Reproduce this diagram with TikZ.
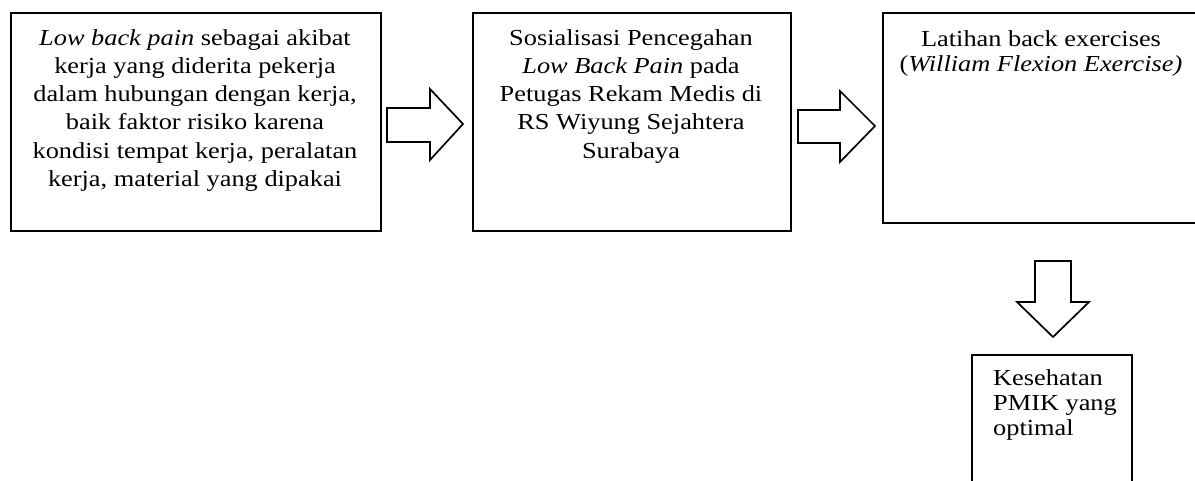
\documentclass[tikz,border=0pt]{standalone}
\usepackage{fontspec}
\setmainfont{Liberation Serif}[FakeStretch=1.15]
\begin{document}
\begin{tikzpicture}[x=1pt,y=-1pt,
  box/.style={draw, line width=2.3pt, inner sep=0pt, anchor=north west},
  txt/.style={align=center, inner sep=0pt, anchor=base, font=\fontsize{22.9}{28.3}\selectfont},
  txttight/.style={inner sep=0pt, anchor=base, font=\fontsize{22.9}{25}\selectfont},
  blockarrow/.style={draw, line width=1.7pt, line join=miter, fill=white}]
\useasboundingbox (0,0) rectangle (1195,480);
% boxes
\node[box, minimum width=370pt, minimum height=218pt] (b1) at (10,12) {};
\node[box, minimum width=318pt, minimum height=218pt] (b2) at (472,12) {};
\node[box, minimum width=330pt, minimum height=210pt] (b3) at (882,12) {};
\node[box, minimum width=160pt, minimum height=140pt] (b4) at (971,354) {};
% texts (anchor=base is the baseline of the last line)
\node[txt] (t1) at (195,186.5) {\textit{Low back pain} sebagai akibat\\kerja yang diderita pekerja\\dalam hubungan dengan kerja,\\baik faktor risiko karena\\kondisi tempat kerja, peralatan\\kerja, material yang dipakai};
\node[txt] (t2) at (631,158.2) {Sosialisasi Pencegahan\\\textit{Low Back Pain} pada\\Petugas Rekam Medis di\\RS Wiyung Sejahtera\\Surabaya};
\node[txttight, align=center] (t3) at (1041,71.7) {Latihan back exercises\\(\textit{William Flexion Exercise)}};
\node[txttight, align=left, anchor=base west] (t4) at (993,435) {Kesehatan\\PMIK yang\\optimal};
% block arrows
\draw[blockarrow] (387,108) -- (430,108) -- (430,89) -- (463,124) -- (430,160) -- (430,142) -- (387,142) -- cycle;
\draw[blockarrow] (798,110) -- (840,110) -- (840,91) -- (875,126) -- (840,162) -- (840,143) -- (798,143) -- cycle;
\draw[blockarrow] (1035,261) -- (1071,261) -- (1071,302) -- (1089,302) -- (1053,337) -- (1017,302) -- (1035,302) -- cycle;
\end{tikzpicture}
\end{document}
